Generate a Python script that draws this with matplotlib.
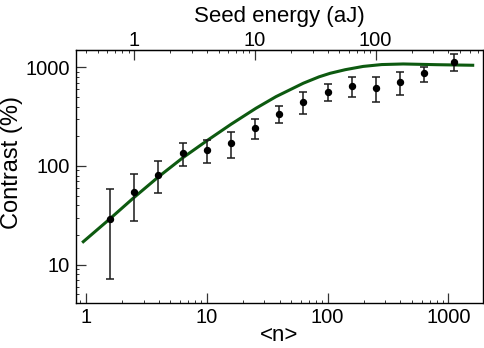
import matplotlib
matplotlib.use("Agg")
import matplotlib.pyplot as plt
import numpy as np

plt.rcParams['font.family'] = ['Liberation Sans', 'DejaVu Sans']

# measured points: mean photon number, contrast (%), error bar ends
n_pts = [1.58, 2.51, 3.98, 6.31, 10, 15.8, 25.1, 39.8, 63.1, 100, 158, 251, 398, 631, 1120]
contrast = [28.8, 55, 81, 135, 146, 171, 243, 336, 449, 566, 647, 622, 705, 881, 1131]
err_top = [58, 82, 111, 172, 183, 219, 297, 406, 558, 682, 793, 798, 890, 1014, 1355]
err_bot = [7.2, 27.7, 53, 99, 106, 120, 187, 275, 336, 456, 504, 445, 524, 714, 918]

# model curve
n_curve = [0.95, 1.56, 2.51, 4.0, 6.32, 10.2, 15.9, 25.5, 37.4, 62.9, 85, 105, 140, 197, 280, 423, 800, 1589]
c_curve = [17.1, 28.8, 48.2, 78, 121, 183, 265, 384, 504, 689, 800, 869, 945, 1020, 1065, 1080, 1062, 1048]

# seed energy per photon (aJ)
e_photon = 0.4

contrast = np.array(contrast)
yerr = [contrast - np.array(err_bot), np.array(err_top) - contrast]

fig = plt.figure(figsize=(4.85, 3.48), dpi=100)
ax = fig.add_axes([0.1557, 0.1302, 0.8402, 0.7253])

ax.plot(n_curve, c_curve, color='#0d5a10', lw=2.2, zorder=2)
ax.errorbar(n_pts, contrast, yerr=yerr, fmt='o', color='black', ms=4.3,
            ecolor='#1a1a1a', elinewidth=1.1, capsize=3, capthick=1.1, zorder=3)

ax.set_xscale('log')
ax.set_yscale('log')
ax.set_xlim(0.819, 1934)
ax.set_ylim(4.12, 1486)

ax.set_xticks([1, 10, 100, 1000])
ax.set_xticklabels(['1', '10', '100', '1000'])
ax.set_yticks([10, 100, 1000])
ax.set_yticklabels(['10', '100', '1000'])

ax.tick_params(which='both', direction='in', labelsize=14.5, color='#333333')
ax.tick_params(which='major', length=7, width=0.9, pad=4)
ax.tick_params(which='minor', length=2.4, width=0.7)
ax.tick_params(axis='x', top=False)
ax.tick_params(axis='y', right=False)
for s in ax.spines.values():
    s.set_linewidth(1.0)

ax.set_xlabel('<n>', fontsize=16, labelpad=-1.5)
ax.set_ylabel('Contrast (%)', fontsize=17)
ax.yaxis.set_label_coords(-0.128, 0.557)

top = ax.secondary_xaxis('top', functions=(lambda n: n * e_photon, lambda e: e / e_photon))
top.set_xticks([1, 10, 100])
top.set_xticklabels(['1', '10', '100'])
top.tick_params(which='both', direction='in', labelsize=14.5, color='#333333')
top.tick_params(which='major', length=7, width=0.9, pad=0.5)
top.tick_params(which='minor', length=2.4, width=0.7)
top.set_xlabel('Seed energy (aJ)', fontsize=16, labelpad=6)

fig.savefig('out.png', dpi=100)
